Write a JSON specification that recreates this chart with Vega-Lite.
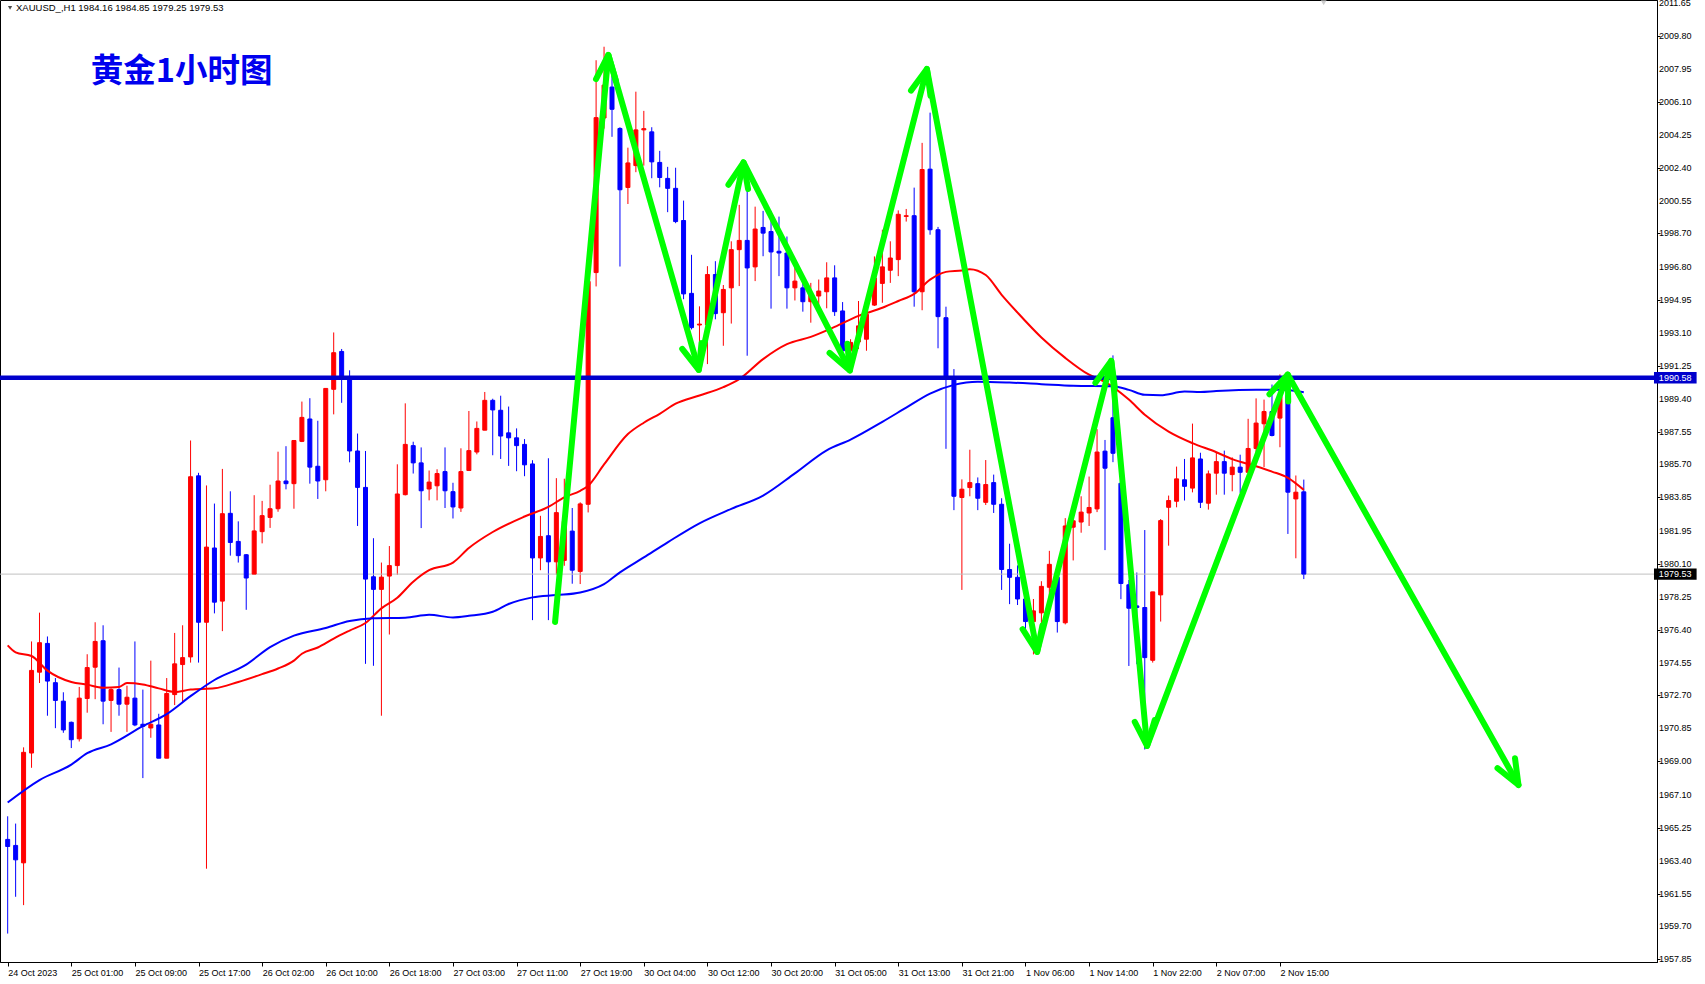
{
  "$schema": "https://vega.github.io/schema/vega-lite/v6.json",
  "width": 1657,
  "height": 962,
  "autosize": {"type": "none"},
  "padding": {"left": 0, "top": 0, "right": 48, "bottom": 22},
  "background": "#ffffff",
  "config": {"view": {"stroke": "#000000", "strokeWidth": 1}, "font": "Liberation Sans"},
  "datasets": {
    "one": [{}],
    "yticks": [
      {"p":2011.65},{"p":2009.80},{"p":2007.95},{"p":2006.10},{"p":2004.25},{"p":2002.40},{"p":2000.55},{"p":1998.70},{"p":1996.80},{"p":1994.95},
      {"p":1993.10},{"p":1991.25},{"p":1989.40},{"p":1987.55},{"p":1985.70},{"p":1983.85},{"p":1981.95},{"p":1980.10},{"p":1978.25},{"p":1976.40},
      {"p":1974.55},{"p":1972.70},{"p":1970.85},{"p":1969.00},{"p":1967.10},{"p":1965.25},{"p":1963.40},{"p":1961.55},{"p":1959.70},{"p":1957.85}
    ],
    "candles": [
      {"i":0,"o":1964.6,"h":1965.9,"l":1959.3,"c":1964.2},
      {"i":1,"o":1964.26,"h":1965.49,"l":1961.37,"c":1963.45},
      {"i":2,"o":1963.28,"h":1969.78,"l":1960.9,"c":1969.5},
      {"i":3,"o":1969.46,"h":1975.74,"l":1968.63,"c":1974.11},
      {"i":4,"o":1974.01,"h":1977.36,"l":1973.4,"c":1975.67},
      {"i":5,"o":1975.63,"h":1976.02,"l":1971.56,"c":1973.51},
      {"i":6,"o":1973.42,"h":1973.68,"l":1970.86,"c":1972.42},
      {"i":7,"o":1972.38,"h":1972.88,"l":1970.6,"c":1970.76},
      {"i":8,"o":1971.19,"h":1971.23,"l":1969.74,"c":1970.21},
      {"i":9,"o":1970.26,"h":1973.18,"l":1970.11,"c":1972.55},
      {"i":10,"o":1972.53,"h":1975.02,"l":1971.73,"c":1974.27},
      {"i":11,"o":1974.29,"h":1976.82,"l":1972.49,"c":1975.74},
      {"i":12,"o":1975.78,"h":1976.65,"l":1971.08,"c":1972.38},
      {"i":13,"o":1972.42,"h":1973.1,"l":1970.65,"c":1973.03},
      {"i":14,"o":1973.03,"h":1974.27,"l":1971.56,"c":1972.21},
      {"i":15,"o":1972.21,"h":1973.25,"l":1970.65,"c":1972.6},
      {"i":16,"o":1972.55,"h":1975.74,"l":1970.97,"c":1971.04},
      {"i":17,"o":1971.08,"h":1973.03,"l":1968.05,"c":1970.97},
      {"i":18,"o":1970.87,"h":1974.66,"l":1970.32,"c":1971.08},
      {"i":19,"o":1971.04,"h":1971.67,"l":1969.17,"c":1969.17},
      {"i":20,"o":1969.17,"h":1973.68,"l":1969.17,"c":1972.81},
      {"i":21,"o":1972.75,"h":1976.22,"l":1972.16,"c":1974.48},
      {"i":22,"o":1974.44,"h":1976.65,"l":1972.27,"c":1974.83},
      {"i":23,"o":1974.87,"h":1987.05,"l":1974.55,"c":1985.01},
      {"i":24,"o":1985.06,"h":1985.23,"l":1974.55,"c":1976.82},
      {"i":25,"o":1976.82,"h":1984.52,"l":1962.95,"c":1981.05},
      {"i":26,"o":1981.0,"h":1983.5,"l":1977.32,"c":1977.95},
      {"i":27,"o":1978.01,"h":1985.45,"l":1976.32,"c":1982.93},
      {"i":28,"o":1982.95,"h":1984.19,"l":1980.57,"c":1981.31},
      {"i":29,"o":1981.37,"h":1982.5,"l":1980.18,"c":1980.57},
      {"i":30,"o":1980.62,"h":1980.66,"l":1977.52,"c":1979.31},
      {"i":31,"o":1979.53,"h":1983.97,"l":1979.53,"c":1981.96},
      {"i":32,"o":1981.92,"h":1983.65,"l":1981.26,"c":1982.82},
      {"i":33,"o":1982.72,"h":1984.56,"l":1982.13,"c":1983.21},
      {"i":34,"o":1983.21,"h":1986.42,"l":1983.04,"c":1984.77},
      {"i":35,"o":1984.77,"h":1986.73,"l":1984.3,"c":1984.62},
      {"i":36,"o":1984.62,"h":1987.05,"l":1983.21,"c":1987.05},
      {"i":37,"o":1987.0,"h":1989.24,"l":1986.96,"c":1988.35},
      {"i":38,"o":1988.26,"h":1989.43,"l":1984.62,"c":1985.55},
      {"i":39,"o":1985.6,"h":1988.16,"l":1983.76,"c":1984.77},
      {"i":40,"o":1984.84,"h":1990.0,"l":1984.19,"c":1989.98},
      {"i":41,"o":1989.93,"h":1993.13,"l":1988.52,"c":1991.99},
      {"i":42,"o":1992.06,"h":1992.2,"l":1989.17,"c":1990.52},
      {"i":43,"o":1990.58,"h":1991.0,"l":1985.82,"c":1986.46},
      {"i":44,"o":1986.46,"h":1987.44,"l":1982.24,"c":1984.41},
      {"i":45,"o":1984.41,"h":1986.46,"l":1974.48,"c":1979.25},
      {"i":46,"o":1979.38,"h":1981.55,"l":1974.37,"c":1978.67},
      {"i":47,"o":1978.67,"h":1980.18,"l":1971.56,"c":1979.36},
      {"i":48,"o":1979.42,"h":1981.11,"l":1976.13,"c":1980.01},
      {"i":49,"o":1980.01,"h":1985.71,"l":1979.49,"c":1984.04},
      {"i":50,"o":1984.0,"h":1989.14,"l":1983.96,"c":1986.83},
      {"i":51,"o":1986.76,"h":1986.98,"l":1985.19,"c":1985.79},
      {"i":52,"o":1985.79,"h":1986.66,"l":1982.12,"c":1984.22},
      {"i":53,"o":1984.32,"h":1985.36,"l":1983.68,"c":1984.71},
      {"i":54,"o":1984.5,"h":1985.43,"l":1983.68,"c":1985.19},
      {"i":55,"o":1985.3,"h":1986.66,"l":1983.25,"c":1984.22},
      {"i":56,"o":1984.17,"h":1984.67,"l":1982.66,"c":1983.31},
      {"i":57,"o":1983.25,"h":1986.61,"l":1983.03,"c":1985.3},
      {"i":58,"o":1985.36,"h":1988.71,"l":1985.36,"c":1986.48},
      {"i":59,"o":1986.4,"h":1988.12,"l":1986.27,"c":1987.73},
      {"i":60,"o":1987.63,"h":1989.78,"l":1987.63,"c":1989.31},
      {"i":61,"o":1989.31,"h":1989.4,"l":1986.22,"c":1988.77},
      {"i":62,"o":1988.75,"h":1989.57,"l":1986.01,"c":1987.3},
      {"i":63,"o":1987.48,"h":1988.96,"l":1985.62,"c":1987.2},
      {"i":64,"o":1987.2,"h":1987.73,"l":1985.32,"c":1986.76},
      {"i":65,"o":1986.83,"h":1987.13,"l":1985.04,"c":1985.68},
      {"i":66,"o":1985.73,"h":1985.94,"l":1976.94,"c":1980.44},
      {"i":67,"o":1980.44,"h":1982.81,"l":1979.75,"c":1981.65},
      {"i":68,"o":1981.69,"h":1986.05,"l":1976.94,"c":1980.22},
      {"i":69,"o":1980.22,"h":1984.93,"l":1979.5,"c":1982.99},
      {"i":70,"o":1980.3,"h":1984.9,"l":1980.0,"c":1982.5},
      {"i":71,"o":1981.95,"h":1983.25,"l":1978.99,"c":1979.75},
      {"i":72,"o":1979.68,"h":1983.57,"l":1978.97,"c":1983.48},
      {"i":73,"o":1983.46,"h":1997.5,"l":1983.0,"c":1996.0},
      {"i":74,"o":1996.5,"h":2008.45,"l":1995.72,"c":2005.22},
      {"i":75,"o":2005.2,"h":2009.21,"l":2004.6,"c":2007.05},
      {"i":76,"o":2006.94,"h":2007.59,"l":2004.14,"c":2005.69},
      {"i":77,"o":2004.61,"h":2004.68,"l":1996.84,"c":2001.16},
      {"i":78,"o":2001.29,"h":2003.53,"l":2000.36,"c":2002.67},
      {"i":79,"o":2002.52,"h":2006.68,"l":2002.15,"c":2004.53},
      {"i":80,"o":2004.53,"h":2005.6,"l":2002.52,"c":2004.6},
      {"i":81,"o":2004.42,"h":2004.68,"l":2001.81,"c":2002.73},
      {"i":82,"o":2002.7,"h":2003.35,"l":2001.3,"c":2001.85},
      {"i":83,"o":2001.8,"h":2002.45,"l":1999.9,"c":2001.24},
      {"i":84,"o":2001.24,"h":2002.4,"l":1999.28,"c":1999.37},
      {"i":85,"o":1999.43,"h":2000.55,"l":1995.0,"c":1995.3},
      {"i":86,"o":1995.33,"h":1997.5,"l":1993.3,"c":1993.4},
      {"i":87,"o":1993.55,"h":1994.6,"l":1991.5,"c":1993.6},
      {"i":88,"o":1993.55,"h":1996.86,"l":1991.35,"c":1996.39},
      {"i":89,"o":1996.39,"h":1997.14,"l":1993.87,"c":1994.19},
      {"i":90,"o":1994.24,"h":1995.8,"l":1992.38,"c":1995.55},
      {"i":91,"o":1995.64,"h":1998.26,"l":1993.63,"c":1997.79},
      {"i":92,"o":1997.79,"h":2000.31,"l":1995.74,"c":1998.31},
      {"i":93,"o":1998.31,"h":2001.24,"l":1991.82,"c":1996.76},
      {"i":94,"o":1996.82,"h":2000.21,"l":1996.02,"c":1998.95},
      {"i":95,"o":1999.04,"h":1999.97,"l":1997.42,"c":1998.72},
      {"i":96,"o":1998.81,"h":1999.97,"l":1994.47,"c":1997.66},
      {"i":97,"o":1997.7,"h":1999.65,"l":1996.3,"c":1997.6},
      {"i":98,"o":1997.6,"h":1998.53,"l":1994.47,"c":1995.64},
      {"i":99,"o":1995.64,"h":1997.04,"l":1994.93,"c":1996.02},
      {"i":100,"o":1995.64,"h":1996.3,"l":1994.3,"c":1994.86},
      {"i":101,"o":1994.86,"h":1995.92,"l":1993.68,"c":1995.27},
      {"i":102,"o":1995.18,"h":1996.11,"l":1994.15,"c":1995.46},
      {"i":103,"o":1995.42,"h":1997.08,"l":1994.49,"c":1996.2},
      {"i":104,"o":1996.2,"h":1996.91,"l":1994.06,"c":1994.3},
      {"i":105,"o":1994.34,"h":1994.84,"l":1991.8,"c":1992.1},
      {"i":106,"o":1992.1,"h":1992.75,"l":1991.6,"c":1992.57},
      {"i":107,"o":1992.6,"h":1994.9,"l":1992.2,"c":1993.5},
      {"i":108,"o":1992.75,"h":1994.52,"l":1992.1,"c":1994.15},
      {"i":109,"o":1994.67,"h":1997.41,"l":1994.62,"c":1996.2},
      {"i":110,"o":1995.89,"h":1998.91,"l":1994.8,"c":1996.82},
      {"i":111,"o":1996.63,"h":1998.26,"l":1995.92,"c":1997.32},
      {"i":112,"o":1997.23,"h":2000.0,"l":1996.3,"c":1999.78},
      {"i":113,"o":1999.66,"h":2000.08,"l":1999.37,"c":1999.7},
      {"i":114,"o":1999.7,"h":2001.28,"l":1994.58,"c":1995.42},
      {"i":115,"o":1995.42,"h":2003.8,"l":1994.38,"c":2002.3},
      {"i":116,"o":2002.32,"h":2005.5,"l":1998.63,"c":1998.91},
      {"i":117,"o":1998.91,"h":1999.07,"l":1992.24,"c":1994.02},
      {"i":118,"o":1993.96,"h":1994.58,"l":1986.58,"c":1990.58},
      {"i":119,"o":1990.58,"h":1991.07,"l":1983.13,"c":1983.91},
      {"i":120,"o":1983.84,"h":1984.86,"l":1978.64,"c":1984.31},
      {"i":121,"o":1984.4,"h":1986.53,"l":1983.91,"c":1984.68},
      {"i":122,"o":1984.62,"h":1984.97,"l":1983.13,"c":1983.8},
      {"i":123,"o":1983.57,"h":1985.95,"l":1983.42,"c":1984.57},
      {"i":124,"o":1984.68,"h":1985.13,"l":1982.97,"c":1983.46},
      {"i":125,"o":1983.46,"h":1983.8,"l":1978.64,"c":1979.79},
      {"i":126,"o":1979.79,"h":1981.24,"l":1977.84,"c":1979.35},
      {"i":127,"o":1979.35,"h":1980.02,"l":1977.79,"c":1978.13},
      {"i":128,"o":1978.13,"h":1978.4,"l":1976.0,"c":1976.86},
      {"i":129,"o":1976.86,"h":1978.13,"l":1975.01,"c":1977.46},
      {"i":130,"o":1977.35,"h":1979.13,"l":1976.57,"c":1978.84},
      {"i":131,"o":1978.79,"h":1980.84,"l":1978.13,"c":1980.08},
      {"i":132,"o":1979.35,"h":1980.0,"l":1976.24,"c":1976.86},
      {"i":133,"o":1976.79,"h":1982.68,"l":1976.7,"c":1982.24},
      {"i":134,"o":1982.17,"h":1982.9,"l":1980.3,"c":1982.53},
      {"i":135,"o":1982.46,"h":1983.91,"l":1981.86,"c":1983.02},
      {"i":136,"o":1982.97,"h":1985.02,"l":1982.24,"c":1983.28},
      {"i":137,"o":1983.2,"h":1987.69,"l":1983.02,"c":1986.4},
      {"i":138,"o":1986.45,"h":1987.08,"l":1980.88,"c":1985.49},
      {"i":139,"o":1988.33,"h":1991.84,"l":1985.83,"c":1986.33},
      {"i":140,"o":1984.64,"h":1984.7,"l":1978.12,"c":1979.0},
      {"i":141,"o":1978.93,"h":1979.2,"l":1974.36,"c":1977.61},
      {"i":142,"o":1977.74,"h":1979.62,"l":1974.46,"c":1977.65},
      {"i":143,"o":1977.65,"h":1982.01,"l":1969.66,"c":1974.83},
      {"i":144,"o":1974.68,"h":1978.53,"l":1974.55,"c":1978.53},
      {"i":145,"o":1978.36,"h":1982.63,"l":1976.86,"c":1982.54},
      {"i":146,"o":1983.29,"h":1983.95,"l":1981.13,"c":1983.67},
      {"i":147,"o":1983.63,"h":1985.58,"l":1983.29,"c":1984.89},
      {"i":148,"o":1984.84,"h":1986.01,"l":1983.67,"c":1984.47},
      {"i":149,"o":1984.37,"h":1988.0,"l":1984.13,"c":1986.07},
      {"i":150,"o":1986.01,"h":1986.36,"l":1983.25,"c":1983.57},
      {"i":151,"o":1983.52,"h":1985.36,"l":1983.16,"c":1985.17},
      {"i":152,"o":1985.21,"h":1986.4,"l":1984.0,"c":1985.86},
      {"i":153,"o":1985.86,"h":1986.48,"l":1984.0,"c":1985.21},
      {"i":154,"o":1985.13,"h":1986.1,"l":1984.19,"c":1985.55},
      {"i":155,"o":1985.55,"h":1986.25,"l":1984.1,"c":1985.26},
      {"i":156,"o":1985.26,"h":1988.27,"l":1985.26,"c":1986.6},
      {"i":157,"o":1986.6,"h":1989.42,"l":1986.4,"c":1988.03},
      {"i":158,"o":1987.99,"h":1989.35,"l":1985.55,"c":1988.68},
      {"i":159,"o":1988.68,"h":1990.2,"l":1987.28,"c":1987.33},
      {"i":160,"o":1988.31,"h":1990.77,"l":1986.67,"c":1989.53},
      {"i":161,"o":1989.59,"h":1990.71,"l":1981.79,"c":1984.14},
      {"i":162,"o":1983.76,"h":1985.08,"l":1980.42,"c":1984.14},
      {"i":163,"o":1984.16,"h":1984.85,"l":1979.25,"c":1979.53}
    ],
    "maRed": [
      {"i":0,"v":1975.52},{"i":1,"v":1975.13},{"i":3,"v":1974.92},{"i":5,"v":1974.1},{"i":8,"v":1973.46},
      {"i":10,"v":1973.31},{"i":12,"v":1973.14},{"i":14,"v":1973.18},{"i":15,"v":1973.4},{"i":17,"v":1973.32},
      {"i":19,"v":1973.1},{"i":21,"v":1972.9},{"i":23,"v":1973.03},{"i":26,"v":1973.1},{"i":29,"v":1973.46},
      {"i":32,"v":1973.9},{"i":34,"v":1974.22},{"i":36,"v":1974.66},{"i":37,"v":1975.05},{"i":39,"v":1975.4},
      {"i":41,"v":1975.9},{"i":43,"v":1976.35},{"i":45,"v":1976.78},{"i":47,"v":1977.6},{"i":49,"v":1978.2},
      {"i":51,"v":1979.1},{"i":53,"v":1979.75},{"i":56,"v":1980.18},{"i":58,"v":1981.0},{"i":61,"v":1981.9},
      {"i":65,"v":1982.77},{"i":68,"v":1983.31},{"i":70,"v":1983.85},{"i":72,"v":1984.22},{"i":73,"v":1984.5},
      {"i":75,"v":1985.7},{"i":78,"v":1987.41},{"i":80,"v":1988.05},{"i":82,"v":1988.55},{"i":84,"v":1989.12},
      {"i":87,"v":1989.58},{"i":90,"v":1990.05},{"i":92,"v":1990.5},{"i":95,"v":1991.63},{"i":98,"v":1992.47},
      {"i":101,"v":1992.88},{"i":104,"v":1993.44},{"i":107,"v":1994.06},{"i":110,"v":1994.52},{"i":112,"v":1994.9},
      {"i":114,"v":1995.3},{"i":116,"v":1996.1},{"i":118,"v":1996.54},{"i":120,"v":1996.62},{"i":121,"v":1996.69},
      {"i":123,"v":1996.36},{"i":125,"v":1995.25},{"i":127,"v":1994.25},{"i":130,"v":1992.85},{"i":133,"v":1991.7},
      {"i":136,"v":1990.75},{"i":138,"v":1990.35},{"i":141,"v":1989.35},{"i":143,"v":1988.5},{"i":146,"v":1987.55},
      {"i":149,"v":1986.9},{"i":152,"v":1986.39},{"i":154,"v":1986.0},{"i":157,"v":1985.6},{"i":159,"v":1985.3},
      {"i":161,"v":1984.95},{"i":163,"v":1984.27}
    ],
    "maBlue": [
      {"i":0,"v":1966.68},{"i":4,"v":1967.94},{"i":8,"v":1968.81},{"i":10,"v":1969.45},{"i":13,"v":1969.95},
      {"i":17,"v":1970.97},{"i":20,"v":1971.65},{"i":23,"v":1972.66},{"i":26,"v":1973.57},{"i":30,"v":1974.44},
      {"i":33,"v":1975.42},{"i":36,"v":1976.07},{"i":40,"v":1976.5},{"i":43,"v":1976.89},{"i":46,"v":1977.04},
      {"i":50,"v":1977.07},{"i":53,"v":1977.24},{"i":56,"v":1977.09},{"i":58,"v":1977.18},{"i":61,"v":1977.41},
      {"i":63,"v":1977.85},{"i":66,"v":1978.22},{"i":69,"v":1978.35},{"i":72,"v":1978.5},{"i":75,"v":1978.97},
      {"i":77,"v":1979.63},{"i":80,"v":1980.47},{"i":83,"v":1981.32},{"i":87,"v":1982.39},{"i":91,"v":1983.2},
      {"i":95,"v":1983.95},{"i":99,"v":1985.2},{"i":103,"v":1986.5},{"i":106,"v":1987.1},{"i":110,"v":1988.1},
      {"i":113,"v":1988.9},{"i":116,"v":1989.69},{"i":119,"v":1990.18},{"i":122,"v":1990.36},{"i":126,"v":1990.31},
      {"i":130,"v":1990.22},{"i":134,"v":1990.13},{"i":139,"v":1990.1},{"i":141,"v":1989.9},{"i":143,"v":1989.62},
      {"i":145,"v":1989.6},{"i":148,"v":1989.8},{"i":150,"v":1989.78},{"i":152,"v":1989.83},{"i":157,"v":1989.9},
      {"i":160,"v":1989.9},{"i":163,"v":1989.77}
    ],
    "arrows": [
      {"g":"path","o":0,"x":68.84,"p":1976.84},
      {"g":"path","o":1,"x":75.54,"p":2008.75},
      {"g":"path","o":2,"x":86.91,"p":1991.02},
      {"g":"path","o":3,"x":92.54,"p":2002.7},
      {"g":"path","o":4,"x":105.91,"p":1990.99},
      {"g":"path","o":5,"x":115.6,"p":2007.96},
      {"g":"path","o":6,"x":129.46,"p":1975.15},
      {"g":"path","o":7,"x":138.79,"p":1991.53},
      {"g":"path","o":8,"x":143.29,"p":1969.86},
      {"g":"path","o":9,"x":160.98,"p":1990.76},
      {"g":"path","o":10,"x":190.0,"p":1967.66},
      {"g":"h1","o":0,"x":73.99,"p":2007.39},{"g":"h1","o":1,"x":75.54,"p":2008.75},{"g":"h1","o":2,"x":76.5,"p":2007.29},
      {"g":"h2","o":0,"x":87.26,"p":1992.53},{"g":"h2","o":1,"x":86.91,"p":1991.02},{"g":"h2","o":2,"x":84.83,"p":1992.21},
      {"g":"h3","o":0,"x":90.64,"p":2001.44},{"g":"h3","o":1,"x":92.54,"p":2002.7},{"g":"h3","o":2,"x":93.11,"p":2001.2},
      {"g":"h4","o":0,"x":105.6,"p":1992.5},{"g":"h4","o":1,"x":105.91,"p":1990.99},{"g":"h4","o":2,"x":103.36,"p":1991.98},
      {"g":"h5","o":0,"x":113.6,"p":2006.74},{"g":"h5","o":1,"x":115.6,"p":2007.96},{"g":"h5","o":2,"x":116.05,"p":2006.45},
      {"g":"h6","o":0,"x":130.13,"p":1976.64},{"g":"h6","o":1,"x":129.46,"p":1975.15},{"g":"h6","o":2,"x":127.64,"p":1976.43},
      {"g":"h7","o":0,"x":136.79,"p":1990.3},{"g":"h7","o":1,"x":138.79,"p":1991.53},{"g":"h7","o":2,"x":139.24,"p":1990.02},
      {"g":"h8","o":0,"x":144.25,"p":1971.32},{"g":"h8","o":1,"x":143.29,"p":1969.86},{"g":"h8","o":2,"x":141.74,"p":1971.21},
      {"g":"h9","o":0,"x":158.68,"p":1989.65},{"g":"h9","o":1,"x":160.98,"p":1990.76},{"g":"h9","o":2,"x":161.04,"p":1989.25},
      {"g":"h10","o":0,"x":189.56,"p":1969.17},{"g":"h10","o":1,"x":190.0,"p":1967.66},{"g":"h10","o":2,"x":187.36,"p":1968.61}
    ]
  },
  "layer": [
    {
      "data": {"name": "candles"},
      "mark": {"type": "rule", "strokeWidth": 1},
      "encoding": {
        "x": {"field": "i", "type": "quantitative", "scale": {"domain": [-0.3375, 206.79], "nice": false, "zero": false},
          "axis": {"title": null, "grid": false, "values": [0,8,16,24,32,40,48,56,64,72,80,88,96,104,112,120,128,136,144,152,160],
            "labelExpr": "['24 Oct 2023','25 Oct 01:00','25 Oct 09:00','25 Oct 17:00','26 Oct 02:00','26 Oct 10:00','26 Oct 18:00','27 Oct 03:00','27 Oct 11:00','27 Oct 19:00','30 Oct 04:00','30 Oct 12:00','30 Oct 20:00','31 Oct 05:00','31 Oct 13:00','31 Oct 21:00','1 Nov 06:00','1 Nov 14:00','1 Nov 22:00','2 Nov 07:00','2 Nov 15:00'][round(datum.value/8)]",
            "labelAlign": "left", "labelFont": "Liberation Sans", "labelFontSize": 9, "labelColor": "#000000", "tickColor": "#000000", "tickSize": 4, "labelPadding": 2, "domainColor": "#000000", "labelOverlap": false, "labelBound": false, "labelFlush": false}},
        "y": {"field": "l", "type": "quantitative", "scale": {"domain": [1957.70, 2011.84], "nice": false, "zero": false},
          "axis": {"orient": "right", "title": null, "grid": false, "labels": false, "values": [2011.65,2009.80,2007.95,2006.10,2004.25,2002.40,2000.55,1998.70,1996.80,1994.95,1993.10,1991.25,1989.40,1987.55,1985.70,1983.85,1981.95,1980.10,1978.25,1976.40,1974.55,1972.70,1970.85,1969.00,1967.10,1965.25,1963.40,1961.55,1959.70,1957.85],
            "tickColor": "#000000", "tickSize": 3, "domainColor": "#000000"}},
        "y2": {"field": "h"},
        "color": {"condition": {"test": "datum.c >= datum.o", "value": "#ff0000"}, "value": "#0000ff"}
      }
    },
    {
      "data": {"name": "one"},
      "mark": {"type": "rule", "color": "#c0c0c0", "strokeWidth": 1},
      "encoding": {"y": {"datum": 1979.53, "type": "quantitative"}}
    },
    {
      "data": {"name": "candles"},
      "mark": {"type": "bar", "width": 4, "strokeWidth": 1},
      "encoding": {
        "x": {"field": "i", "type": "quantitative"},
        "y": {"field": "o", "type": "quantitative"},
        "y2": {"field": "c"},
        "fill": {"condition": {"test": "datum.c >= datum.o", "value": "#ff0000"}, "value": "#0000ff"},
        "stroke": {"condition": {"test": "datum.c >= datum.o", "value": "#ff0000"}, "value": "#0000ff"}
      }
    },
    {
      "data": {"name": "maRed"},
      "mark": {"type": "line", "color": "#ff0000", "strokeWidth": 2, "interpolate": "monotone"},
      "encoding": {"x": {"field": "i", "type": "quantitative"}, "y": {"field": "v", "type": "quantitative"}}
    },
    {
      "data": {"name": "maBlue"},
      "mark": {"type": "line", "color": "#0000ff", "strokeWidth": 2, "interpolate": "monotone"},
      "encoding": {"x": {"field": "i", "type": "quantitative"}, "y": {"field": "v", "type": "quantitative"}}
    },
    {
      "data": {"name": "one"},
      "mark": {"type": "rule", "color": "#0000cc", "strokeWidth": 4.5},
      "encoding": {"y": {"datum": 1990.58, "type": "quantitative"}}
    },
    {
      "data": {"name": "arrows"},
      "mark": {"type": "line", "color": "#00ff00", "strokeWidth": 6, "strokeCap": "round", "strokeJoin": "round"},
      "encoding": {
        "x": {"field": "x", "type": "quantitative"},
        "y": {"field": "p", "type": "quantitative"},
        "detail": {"field": "g"},
        "order": {"field": "o"}
      }
    },
    {
      "data": {"name": "yticks"},
      "mark": {"type": "text", "align": "left", "baseline": "middle", "font": "Liberation Sans", "fontSize": 9, "color": "#000000"},
      "encoding": {
        "x": {"datum": 207.66, "type": "quantitative"},
        "y": {"field": "p", "type": "quantitative"},
        "text": {"field": "p", "type": "quantitative", "format": ".2f"}
      }
    },
    {
      "data": {"name": "one"},
      "mark": {"type": "point", "shape": "triangle-down", "filled": true, "color": "#000000", "size": 18},
      "encoding": {"x": {"datum": 0.3, "type": "quantitative"}, "y": {"datum": 2011.4, "type": "quantitative"}}
    },
    {
      "data": {"name": "one"},
      "mark": {"type": "text", "text": "XAUUSD_,H1  1984.16 1984.85 1979.25 1979.53", "align": "left", "baseline": "middle", "font": "Liberation Sans", "fontSize": 9.5, "color": "#000000"},
      "encoding": {"x": {"datum": 1.05, "type": "quantitative"}, "y": {"datum": 2011.4, "type": "quantitative"}}
    },
    {
      "data": {"name": "one"},
      "mark": {"type": "text", "text": "黄金1小时图", "align": "left", "baseline": "middle", "font": "Noto Sans CJK SC", "fontSize": 32.5, "fontWeight": "bold", "color": "#0000ee"},
      "encoding": {"x": {"datum": 10.45, "type": "quantitative"}, "y": {"datum": 2007.8, "type": "quantitative"}}
    },
    {
      "data": {"name": "one"},
      "mark": {"type": "point", "shape": "triangle-down", "filled": true, "color": "#b8b8b8", "size": 40},
      "encoding": {"x": {"datum": 165.5, "type": "quantitative"}, "y": {"datum": 2011.7, "type": "quantitative"}}
    },
    {
      "data": {"name": "one"},
      "mark": {"type": "rect", "color": "#0000cc"},
      "encoding": {"x": {"datum": 207.04, "type": "quantitative"}, "x2": {"datum": 212.4}, "y": {"datum": 1990.9, "type": "quantitative"}, "y2": {"datum": 1990.26}}
    },
    {
      "data": {"name": "one"},
      "mark": {"type": "text", "text": "1990.58", "align": "center", "baseline": "middle", "font": "Liberation Sans", "fontSize": 9, "color": "#ffffff"},
      "encoding": {"x": {"datum": 209.7, "type": "quantitative"}, "y": {"datum": 1990.58, "type": "quantitative"}}
    },
    {
      "data": {"name": "one"},
      "mark": {"type": "rect", "color": "#000000"},
      "encoding": {"x": {"datum": 207.04, "type": "quantitative"}, "x2": {"datum": 212.4}, "y": {"datum": 1979.85, "type": "quantitative"}, "y2": {"datum": 1979.21}}
    },
    {
      "data": {"name": "one"},
      "mark": {"type": "text", "text": "1979.53", "align": "center", "baseline": "middle", "font": "Liberation Sans", "fontSize": 9, "color": "#ffffff"},
      "encoding": {"x": {"datum": 209.7, "type": "quantitative"}, "y": {"datum": 1979.53, "type": "quantitative"}}
    }
  ]
}
